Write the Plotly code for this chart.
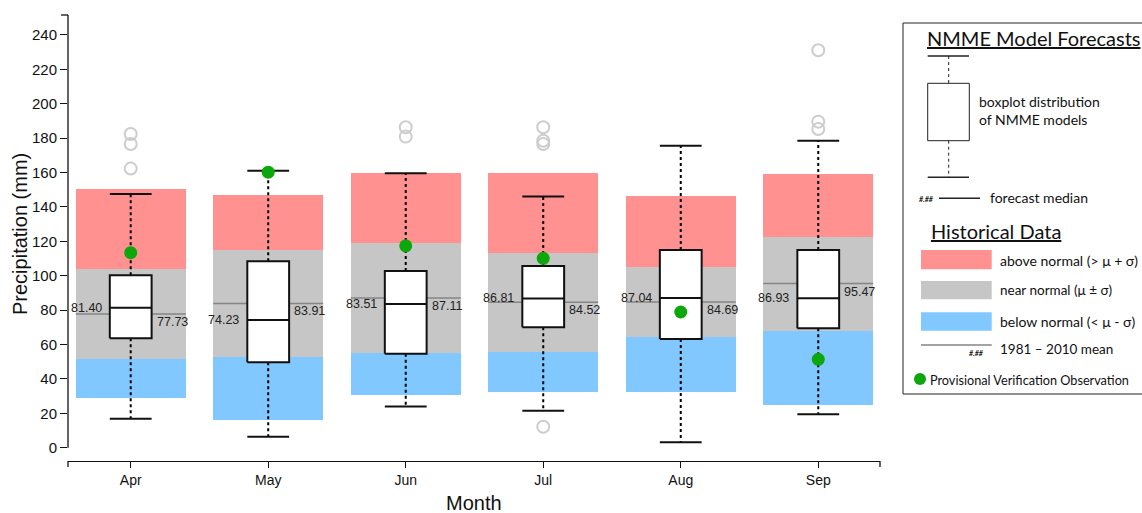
import plotly.graph_objects as go

# ---------------- data ----------------
months = ["Apr", "May", "Jun", "Jul", "Aug", "Sep"]
hist_low = [28.7, 15.9, 30.5, 32.2, 32.2, 24.6]          # bottom of below-normal band
hist_minus_sigma = [51.8, 52.9, 54.9, 55.8, 64.6, 68.1]  # mu - sigma
hist_plus_sigma = [103.7, 114.8, 119.2, 113.2, 104.9, 122.4]  # mu + sigma
hist_high = [150.3, 146.8, 159.6, 159.6, 146.2, 159.0]   # top of above-normal band
hist_mean = [77.73, 83.91, 87.11, 84.52, 84.69, 95.47]   # 1981-2010 mean

fc_median = [81.40, 74.23, 83.51, 86.81, 87.04, 86.93]
fc_q1 = [63.6, 49.7, 54.7, 70.0, 63.2, 69.4]
fc_q3 = [100.3, 108.4, 102.8, 105.7, 115.0, 115.0]
fc_lower = [16.9, 6.4, 23.9, 21.5, 3.1, 19.4]
fc_upper = [147.5, 161.1, 159.6, 146.0, 175.6, 178.5]
fc_outliers = [
    [182.4, 176.6, 162.3],
    [],
    [186.3, 180.9],
    [186.3, 178.5, 176.6, 12.2],
    [],
    [231.1, 189.6, 185.3],
]
observed = [113.4, 160.2, 117.4, 110.1, 78.9, 51.4]

y_ticks = list(range(0, 241, 20))

# ---------------- style ----------------
RED = "#FF9191"
GRAY = "#C6C6C6"
BLUE = "#80C8FF"
GREEN = "#0BA70B"
OUTLIER = "#CDCDCD"
MEANLINE = "#858585"
BAND_W = 0.8
BOX_HW = 0.152
FONT = "Liberation Sans, Arial, sans-serif"
LFONT = "Lato, Open Sans, sans-serif"

W, H = 1142, 513
ML, MR, MT, MB = 68, 262, 15, 52
PW, PH = W - ML - MR, H - MT - MB


def px(x):
    return (x - ML) / PW


def py(y):
    return (H - MB - y) / PH


xs = list(range(len(months)))
fig = go.Figure()

# historical bands
fig.add_trace(go.Bar(x=xs, base=hist_low,
                     y=[b - a for a, b in zip(hist_low, hist_minus_sigma)],
                     width=BAND_W, marker=dict(color=BLUE, line_width=0)))
fig.add_trace(go.Bar(x=xs, base=hist_minus_sigma,
                     y=[b - a for a, b in zip(hist_minus_sigma, hist_plus_sigma)],
                     width=BAND_W, marker=dict(color=GRAY, line_width=0)))
fig.add_trace(go.Bar(x=xs, base=hist_plus_sigma,
                     y=[b - a for a, b in zip(hist_plus_sigma, hist_high)],
                     width=BAND_W, marker=dict(color=RED, line_width=0)))

# mean lines
mx, my = [], []
for i, m in enumerate(hist_mean):
    mx += [i - BAND_W / 2, i + BAND_W / 2, None]
    my += [m, m, None]
fig.add_trace(go.Scatter(x=mx, y=my, mode="lines",
                         line=dict(color=MEANLINE, width=1.5)))

# whiskers (dotted)
wx, wy = [], []
for i in xs:
    wx += [i, i, None, i, i, None]
    wy += [fc_q3[i], fc_upper[i], None, fc_q1[i], fc_lower[i], None]
fig.add_trace(go.Scatter(x=wx, y=wy, mode="lines",
                         line=dict(color="black", width=2, dash="dot")))

# caps
cx, cy = [], []
for i in xs:
    cx += [i - BOX_HW, i + BOX_HW, None, i - BOX_HW, i + BOX_HW, None]
    cy += [fc_upper[i], fc_upper[i], None, fc_lower[i], fc_lower[i], None]
fig.add_trace(go.Scatter(x=cx, y=cy, mode="lines",
                         line=dict(color="#111", width=2)))

# boxes
for i in xs:
    fig.add_trace(go.Scatter(
        x=[i - BOX_HW, i + BOX_HW, i + BOX_HW, i - BOX_HW, i - BOX_HW],
        y=[fc_q1[i], fc_q1[i], fc_q3[i], fc_q3[i], fc_q1[i]],
        mode="lines", fill="toself", fillcolor="white",
        line=dict(color="#111", width=2)))
    fig.add_trace(go.Scatter(
        x=[i - BOX_HW, i + BOX_HW], y=[fc_median[i], fc_median[i]],
        mode="lines", line=dict(color="#111", width=2)))

# outliers
ox, oy = [], []
for i, lst in enumerate(fc_outliers):
    for v in lst:
        ox.append(i)
        oy.append(v)
fig.add_trace(go.Scatter(x=ox, y=oy, mode="markers",
                         marker=dict(symbol="circle-open", size=12,
                                     color=OUTLIER, line=dict(width=2, color=OUTLIER))))

# observations
fig.add_trace(go.Scatter(x=xs, y=observed, mode="markers",
                         marker=dict(size=13, color=GREEN)))

annotations = []
for i in xs:
    annotations.append(dict(x=i - BOX_HW, y=fc_median[i], xref="x", yref="y",
                            text=f"{fc_median[i]:.2f}", showarrow=False,
                            xanchor="right", yanchor="middle", xshift=-6,
                            font=dict(family=FONT, size=12.5, color="#222")))
    annotations.append(dict(x=i + BOX_HW, y=hist_mean[i], xref="x", yref="y",
                            text=f"{hist_mean[i]:.2f}", showarrow=False,
                            xanchor="left", yanchor="middle", xshift=3, yshift=-8,
                            font=dict(family=FONT, size=12.5, color="#222")))

# axis titles
annotations.append(dict(x=px(20), y=py(234), xref="paper", yref="paper",
                        text="Precipitation (mm)", textangle=-90, showarrow=False,
                        xanchor="center", yanchor="middle",
                        font=dict(family=FONT, size=20, color="#111")))
annotations.append(dict(x=px(474), y=py(503), xref="paper", yref="paper",
                        text="Month", showarrow=False,
                        xanchor="center", yanchor="middle",
                        font=dict(family=FONT, size=20, color="#111")))

shapes = []
# y axis line from 0 to top, with top outer tick
shapes.append(dict(type="line", xref="paper", yref="y", x0=0, x1=0, y0=0, y1=251.6,
                   line=dict(color="#111", width=1.3)))
shapes.append(dict(type="line", xref="paper", yref="paper", x0=px(61), x1=0, y0=1, y1=1,
                   line=dict(color="#111", width=1.3)))
# x axis end ticks
for xe in (0, 1):
    shapes.append(dict(type="line", xref="paper", yref="paper", x0=xe, x1=xe,
                       y0=0, y1=py(467), line=dict(color="#111", width=1.3)))

# ---------------- custom legend ----------------
shapes.append(dict(type="rect", xref="paper", yref="paper",
                   x0=px(903), x1=px(1160), y0=py(394), y1=py(23),
                   line=dict(color="#222", width=1), fillcolor="white", layer="below"))
# boxplot glyph
for yy in (56, 177.3):
    shapes.append(dict(type="line", xref="paper", yref="paper", x0=px(927.7), x1=px(969),
                       y0=py(yy), y1=py(yy), line=dict(color="#222", width=1.5)))
for y0, y1 in ((56, 83.3), (140.7, 177.3)):
    shapes.append(dict(type="line", xref="paper", yref="paper", x0=px(948.7), x1=px(948.7),
                       y0=py(y0), y1=py(y1), line=dict(color="#222", width=1, dash="dot")))
shapes.append(dict(type="rect", xref="paper", yref="paper", x0=px(927.7), x1=px(969.3),
                   y0=py(140.7), y1=py(83.3), line=dict(color="#222", width=1)))
# median glyph
shapes.append(dict(type="line", xref="paper", yref="paper", x0=px(939), x1=px(980),
                   y0=py(198.3), y1=py(198.3), line=dict(color="#222", width=1.5)))
# swatches
for color, y0, y1 in ((RED, 250, 269.3), (GRAY, 281, 299.3), (BLUE, 312.3, 330.7)):
    shapes.append(dict(type="rect", xref="paper", yref="paper", x0=px(921), x1=px(991.7),
                       y0=py(y1), y1=py(y0), line=dict(width=0), fillcolor=color))
shapes.append(dict(type="line", xref="paper", yref="paper", x0=px(921), x1=px(991.7),
                   y0=py(345), y1=py(345), line=dict(color=MEANLINE, width=1.5)))
shapes.append(dict(type="circle", xref="paper", yref="paper", x0=px(914), x1=px(926),
                   y0=py(385), y1=py(373), line=dict(width=0), fillcolor=GREEN))


def ltext(x, y, text, size, anchor="left"):
    annotations.append(dict(x=px(x), y=py(y), xref="paper", yref="paper", text=text,
                            showarrow=False, xanchor=anchor, yanchor="middle",
                            font=dict(family=LFONT, size=size, color="#111")))


ltext(925, 38, "<u>NMME Model Forecasts</u>", 20)
ltext(977, 101, "boxplot distribution", 14)
ltext(977, 119, "of NMME models", 14)
ltext(917, 198.5, "<b><i>#.##</i></b>", 7)
ltext(988, 198, "forecast median", 14)
ltext(929, 230.7, "<u>Historical Data</u>", 20)
ltext(998, 260, "above normal (&gt; \u03bc + \u03c3)", 14)
ltext(998, 290, "near normal (\u03bc \u00b1 \u03c3)", 13.5)
ltext(998, 321.7, "below normal (&lt; \u03bc - \u03c3)", 14)
ltext(967, 353, "<b><i>#.##</i></b>", 7)
ltext(998, 349, "1981 \u2013 2010 mean", 13.5)
ltext(928, 379.5, "Provisional Verification Observation", 12.7)

fig.update_layout(
    width=W, height=H,
    margin=dict(l=ML, r=MR, t=MT, b=MB),
    plot_bgcolor="white", paper_bgcolor="white",
    showlegend=False, barmode="overlay", bargap=0,
    xaxis=dict(range=[-0.456, 5.449], tickvals=xs, ticktext=months,
               showline=True, linecolor="#111", linewidth=1.3,
               ticks="outside", ticklen=6, tickwidth=1.3, tickcolor="#111",
               showgrid=False, zeroline=False,
               tickfont=dict(family=FONT, size=14, color="#111")),
    yaxis=dict(range=[-7.73, 251.6], tickvals=y_ticks,
               showline=False, ticks="outside", ticklen=7, tickwidth=1.3,
               tickcolor="#111", showgrid=False, zeroline=False,
               tickfont=dict(family=FONT, size=15, color="#111")),
    annotations=annotations,
    shapes=shapes,
)

fig.write_html("out.html", config={"displayModeBar": False},
               post_script="document.body.style.margin='0';document.body.style.overflow='hidden';")
